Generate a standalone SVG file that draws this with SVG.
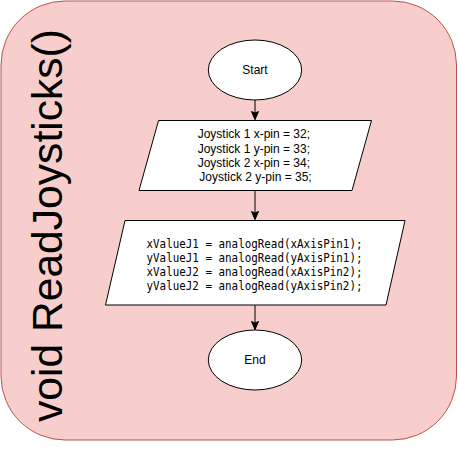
<svg xmlns="http://www.w3.org/2000/svg" width="458" height="451" viewBox="0 0 458 451">
  <style>
    .node { fill: #ffffff; stroke: #000000; stroke-width: 1; }
    .lbl { font-family: "Liberation Sans", Arial, Helvetica, sans-serif; font-size: 12px; fill: #000000; }
    .mono { font-family: "DejaVu Sans Mono", "Liberation Mono", monospace; font-size: 11.4px; fill: #000000; }
    .edge { stroke: #000000; stroke-width: 1; fill: none; }
  </style>
  <defs>
    <marker id="arrow" markerUnits="userSpaceOnUse" markerWidth="11" markerHeight="10" viewBox="-10 -5 11 10" refX="0" refY="0" orient="auto">
      <path d="M0,0 L-8,-3.5 L-6.5,0 L-8,3.5 Z" fill="#000000" stroke="#000000" stroke-width="1"/>
    </marker>
  </defs>

  <g id="container">
    <rect x="1" y="1" width="455.5" height="439" rx="64" ry="64" fill="#f8cecc" stroke="#b85450" stroke-width="1"/>
    <text transform="translate(61.5,422) rotate(-90)" x="0" y="0" font-family="Liberation Sans, Arial, Helvetica, sans-serif" font-size="42.6" fill="#000000">void ReadJoysticks()</text>
  </g>

  <g id="connectors">
    <line class="edge" x1="255" y1="100" x2="255" y2="119.5" marker-end="url(#arrow)"/>
    <line class="edge" x1="255" y1="190" x2="255" y2="219.5" marker-end="url(#arrow)"/>
    <line class="edge" x1="255" y1="305" x2="255" y2="329.5" marker-end="url(#arrow)"/>
  </g>

  <g id="start">
    <ellipse class="node" cx="255" cy="70" rx="46.7" ry="30"/>
    <text class="lbl" x="255" y="74" text-anchor="middle">Start</text>
  </g>

  <g id="pins">
    <polygon class="node" points="158.5,120.5 371.5,120.5 352,190.5 139,190.5"/>
    <text class="lbl" text-anchor="middle">
      <tspan x="255.5" y="138.4">Joystick 1 x-pin = 32;</tspan>
      <tspan x="255.5" y="152.6">Joystick 1 y-pin = 33;</tspan>
      <tspan x="255.5" y="166.8">Joystick 2 x-pin = 34;</tspan>
      <tspan x="255.5" y="181">Joystick 2 y-pin = 35;</tspan>
    </text>
  </g>

  <g id="read">
    <polygon class="node" points="125,220.5 405,220.5 386,305 105.5,305"/>
    <text class="mono" xml:space="preserve">
      <tspan x="146.5" y="248.3" textLength="216" lengthAdjust="spacingAndGlyphs">xValueJ1 = analogRead(xAxisPin1);</tspan>
      <tspan x="146.5" y="262.3" textLength="216" lengthAdjust="spacingAndGlyphs">yValueJ1 = analogRead(yAxisPin1);</tspan>
      <tspan x="146.5" y="276.3" textLength="216" lengthAdjust="spacingAndGlyphs">xValueJ2 = analogRead(xAxisPin2);</tspan>
      <tspan x="146.5" y="290.3" textLength="216" lengthAdjust="spacingAndGlyphs">yValueJ2 = analogRead(yAxisPin2);</tspan>
    </text>
  </g>

  <g id="end">
    <ellipse class="node" cx="255" cy="360" rx="46.7" ry="30"/>
    <text class="lbl" x="255" y="364" text-anchor="middle">End</text>
  </g>
</svg>
